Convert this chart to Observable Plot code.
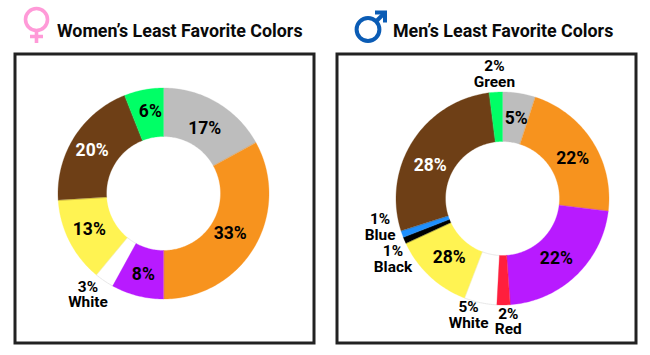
<!DOCTYPE html>
<html>
<head>
<meta charset="utf-8">
<script src="https://cdn.jsdelivr.net/npm/d3@7"></script>
<script src="https://cdn.jsdelivr.net/npm/@observablehq/plot@0.6"></script>
<style>
html,body{margin:0;padding:0;background:#fff;width:650px;height:355px;overflow:hidden}
body{position:relative;font-family:Roboto,sans-serif}
.title{position:absolute;top:19px;font:700 17.85px/24px Roboto,sans-serif;color:#0a0a0a;white-space:nowrap}
.panel{position:absolute;top:52px}
.panel svg{display:block}
#icons{position:absolute;left:0;top:0}
</style>
</head>
<body>
<svg id="icons" width="650" height="52" fill="none">
  <circle cx="36.5" cy="19.5" r="11" stroke="#ff9ad8" stroke-width="3.6"/>
  <path d="M36.5 31V43M30 36.5H43" stroke="#ff9ad8" stroke-width="3.6"/>
  <circle cx="368" cy="29.5" r="11.4" stroke="#0b5cb5" stroke-width="4"/>
  <path d="M376 21.5L384 13.5" stroke="#0b5cb5" stroke-width="4"/>
  <path d="M375 12.5H385V22.5" stroke="#0b5cb5" stroke-width="4"/>
</svg>
<div class="title" style="left:57px">Women’s Least Favorite Colors</div>
<div class="title" style="left:393px">Men’s Least Favorite Colors</div>
<div class="panel" id="women" style="left:13px"></div>
<div class="panel" id="men" style="left:335px"></div>
<script>
// Colour palette
const colorNames = ["Gray","Orange","Purple","Red","White","Yellow","Black","Blue","Brown","Green"];
const colorHex   = ["#bdbdbd","#f7931e","#b81aff","#ff1f3d","#ffffff","#fff352","#000000","#1e90ff","#6e3f16","#00ff66"];

// Women: drawn share and printed label, clockwise from the top
const womenColors = ["Gray","Orange","Purple","White","Yellow","Brown","Green"];
const womenValues = [17,33,8,3,13,20,6];
const womenLabels = ["17%","33%","8%","3%\nWhite","13%","20%","6%"];
const womenNudgeX = [0,-3,0,-30,-2,-3,2];
const womenNudgeY = [5,-1,2,34,-1,0,-3];

// Men: the yellow slice is drawn smaller than its printed 28%, as in the source picture
const menColors = ["Gray","Orange","Purple","Red","White","Yellow","Black","Blue","Brown","Green"];
const menValues = [5,22,22,2,5,12.3,1,1,28,2];
const menLabels = ["5%","22%","22%","2%\nRed","5%\nWhite","28%","1%\nBlack","1%\nBlue","28%","2%\nGreen"];
const menNudgeX = [1,2,-2,5,-17,2,-35,-46,-4,-3];
const menNudgeY = [0,3,1,42,37.5,0,29,1.5,10,-44];

const whiteLabelOn = ["Brown"];
const innerR = 57, labelR = 81;

function donut(el, o) {
  const total = d3.sum(o.values);
  let acc = 0;
  const polys = [], labels = [];
  const pt = (a, r) => [r * Math.sin(a), -r * Math.cos(a)];
  o.values.forEach((v, i) => {
    const a0 = acc / total * 2 * Math.PI;
    acc += v;
    const a1 = acc / total * 2 * Math.PI;
    const n = Math.max(2, Math.ceil((a1 - a0) / 0.02));
    const ts = d3.range(n + 1).map(k => a0 + (a1 - a0) * k / n);
    const ring = [...ts.map(t => pt(t, o.R)), ...ts.reverse().map(t => pt(t, innerR))];
    ring.forEach(([x, y]) => polys.push({x, y, key: o.colors[i]}));
    const [lx, ly] = pt((a0 + a1) / 2, labelR);
    labels.push({x: lx + o.nudgeX[i], y: ly + o.nudgeY[i], text: o.labels[i], key: o.colors[i]});
  });
  const textStyle = {x: "x", y: "y", text: "text", fontFamily: "Roboto", fontWeight: 700, lineAnchor: "middle"};
  const keyColor = {value: "key", scale: "color"};
  const plot = Plot.plot({
    width: o.w, height: o.h, margin: 0,
    x: {axis: null, domain: [-o.cx, o.w - o.cx], range: [0, o.w]},
    y: {axis: null, domain: [-o.cy, o.h - o.cy], range: [0, o.h]},
    color: {type: "ordinal", domain: colorNames, range: colorHex},
    style: {background: "transparent", overflow: "visible"},
    marks: [
      Plot.frame({stroke: "#222", strokeWidth: 3, inset: 1.5}),
      Plot.line(polys.filter(d => d.key === "White"), {x: "x", y: "y", z: "key", fill: keyColor, stroke: "#e8e8e8", strokeWidth: 1, curve: "linear-closed"}),
      Plot.line(polys.filter(d => d.key !== "White"), {x: "x", y: "y", z: "key", fill: keyColor, stroke: keyColor, strokeWidth: 0.3, curve: "linear-closed"}),
      Plot.text(labels.filter(d => !d.text.includes("\n")), {...textStyle, fontSize: 17.5,
        fill: d => whiteLabelOn.includes(d.key) ? "#fff" : "#000"}),
      Plot.text(labels.filter(d => d.text.includes("\n")), {...textStyle, fontSize: 15.4, lineHeight: 1.02, fill: "#000"})
    ]
  });
  document.getElementById(el).appendChild(plot);
}

donut("women", {colors: womenColors, values: womenValues, labels: womenLabels, nudgeX: womenNudgeX, nudgeY: womenNudgeY,
  w: 302, h: 292, cx: 150, cy: 141, R: 105.5});
donut("men", {colors: menColors, values: menValues, labels: menLabels, nudgeX: menNudgeX, nudgeY: menNudgeY,
  w: 302, h: 292, cx: 167, cy: 146, R: 106.5});
</script>
</body>
</html>
